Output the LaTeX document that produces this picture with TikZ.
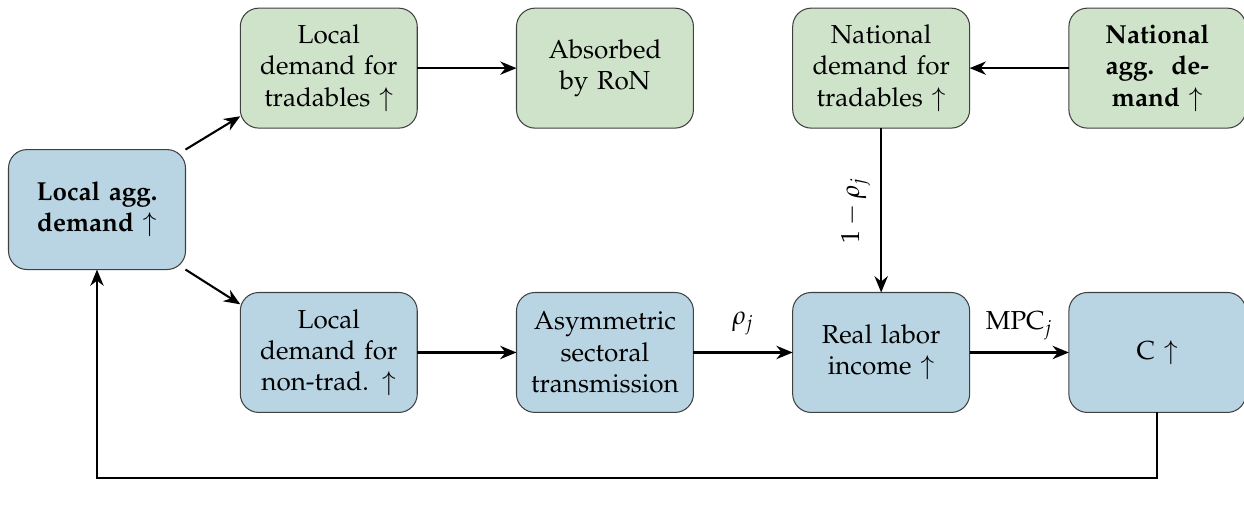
\documentclass[tikz,border=0pt]{standalone}
\usepackage[T1]{fontenc}
\usepackage{mathpazo}
\usepackage{tikz}
\usetikzlibrary{arrows.meta,positioning}
\definecolor{localblue}{RGB}{185,213,227}
\definecolor{natgreen}{RGB}{207,227,203}
\tikzset{
  base/.style={font=\normalsize, align=center, inner sep=2pt, outer sep=0mm},
  bluebox/.style={rectangle, draw=black!75, rounded corners=2.5mm, minimum width=23.9mm, minimum height=16.2mm, text width=22mm, fill=localblue, base},
  greenbox/.style={bluebox, fill=natgreen},
  arrow/.style={-{Stealth[length=2.2mm,width=1.8mm]}, thick, color=black}
}

\begin{document}
\begin{tikzpicture}[node distance=13.4mm and 13.4mm]
  \useasboundingbox (0,0) rectangle (16.8,6.83);

  \node[bluebox] (agg) at (1.31,4.00) {\textbf{Local agg.}\\\textbf{demand} $\uparrow$};
  \node[greenbox] (ldt) at (4.44,5.91) {Local\\demand for\\tradables $\uparrow$};
  \node[greenbox, right=of ldt] (ron) {Absorbed\\by RoN};
  \node[greenbox, right=of ron] (ndt) {National\\demand for\\tradables $\uparrow$};
  \node[greenbox, right=of ndt] (nagg) {\textbf{National}\\\textbf{agg.\ \ de-}\\\textbf{mand} $\uparrow$};

  \node[bluebox] (ldn) at (4.44,2.07) {Local\\demand for\\non-trad. $\uparrow$};
  \node[bluebox, right=of ldn] (asym) {Asymmetric\\sectoral\\transmission};
  \node[bluebox, right=of asym] (rli) {Real labor\\income $\uparrow$};
  \node[bluebox, right=of rli] (cons) {C $\uparrow$};

  \coordinate (loopr) at (cons.south |- 0,0.38);
  \coordinate (loopl) at (agg.south |- 0,0.38);

  \draw[arrow] (agg.north east) -- ([yshift=1.6mm]ldt.south west);
  \draw[arrow] (agg.south east) -- ([yshift=-1.6mm]ldn.north west);
  \draw[arrow] (ldt) -- (ron);
  \draw[arrow] (nagg) -- (ndt);
  \draw[arrow] (ldn) -- (asym);
  \draw[arrow] (asym) -- node[above=3pt] {$\rho_j$} (rli);
  \draw[arrow] (rli) -- node[above=1pt] {MPC$_j$} (cons);
  \draw[arrow] (ndt) -- node[midway, rotate=90, anchor=south, inner sep=4pt] {$1-\rho_j$} (rli);
  \draw[arrow] (cons.south) -- (loopr) -- (loopl) -- (agg.south);
\end{tikzpicture}
\end{document}
